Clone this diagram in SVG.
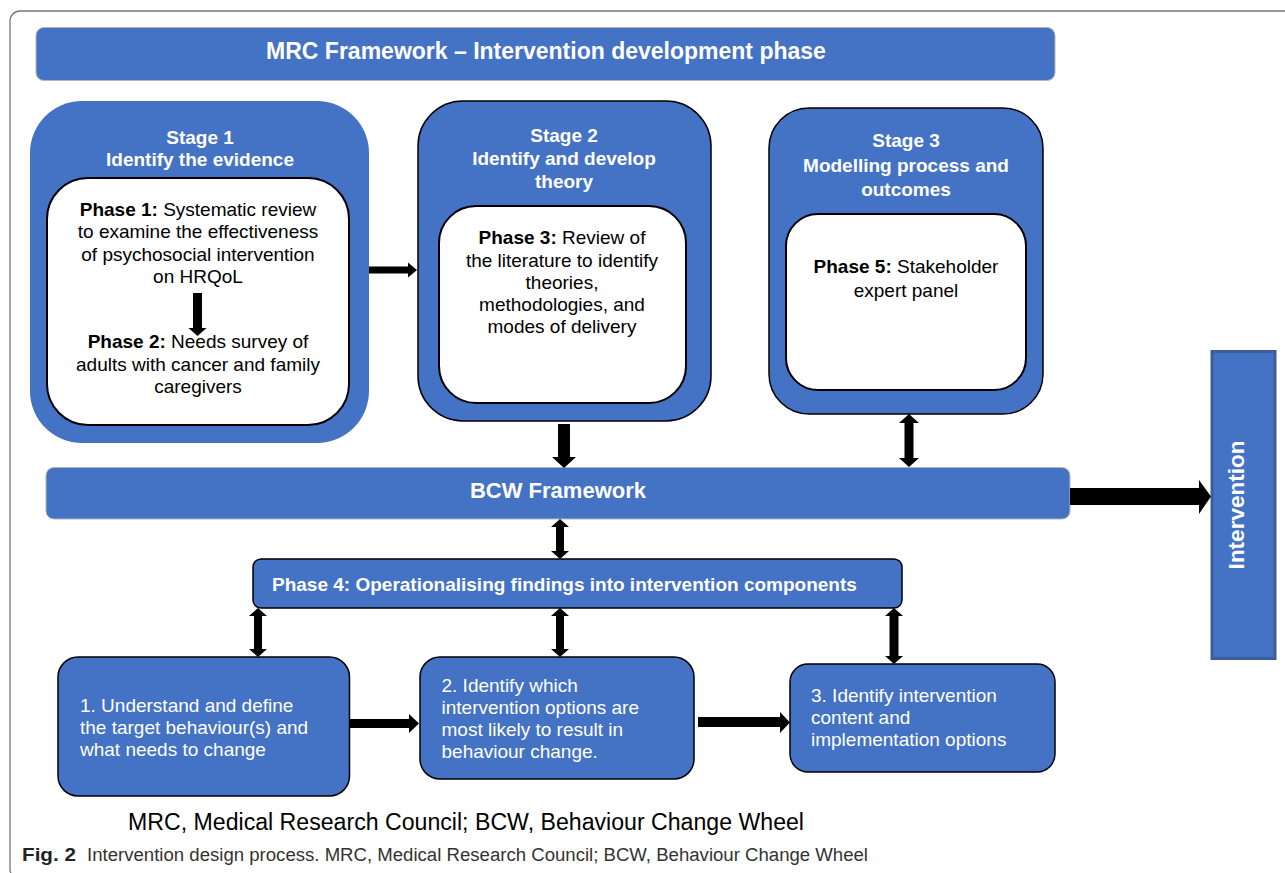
<svg xmlns="http://www.w3.org/2000/svg" width="1285" height="873" viewBox="0 0 1285 873">
<style>
.blue{fill:#4472C4}
.bar{fill:#4472C4;stroke:#b4b4b4;stroke-width:1}
.stg{fill:#4472C4;stroke:#000;stroke-width:1.5}
.inner{fill:#fff;stroke:#000;stroke-width:2}
.box{fill:#4472C4;stroke:#000;stroke-width:1.5}
.arr{fill:#000}
text{font-family:"Liberation Sans",Arial,sans-serif}
.wh{fill:#fff;font-size:19px;font-weight:bold;text-anchor:middle}
.bk{fill:#000;font-size:19px;text-anchor:middle}
.wt{fill:#fff;font-size:19px}
.b{font-weight:bold}
</style>
<rect x="10" y="11" width="1300" height="868" rx="10" fill="none" stroke="#777" stroke-width="1.3"/>
<g id="title">
<rect class="bar" x="36" y="27.5" width="1019" height="53" rx="8"/>
<text x="546" y="59" fill="#fff" font-size="23" font-weight="bold" text-anchor="middle">MRC Framework – Intervention development phase</text>
</g>
<g id="stage1">
<rect class="blue" x="30" y="101" width="339" height="342" rx="52"/>
<text class="wh" x="200" y="144">Stage 1</text>
<text class="wh" x="200" y="166">Identify the evidence</text>
<rect class="inner" x="47" y="178" width="302" height="247" rx="41"/>
<text class="bk" x="198" y="216"><tspan class="b">Phase 1:</tspan> Systematic review</text>
<text class="bk" x="198" y="238.3">to examine the effectiveness</text>
<text class="bk" x="198" y="260.5">of psychosocial intervention</text>
<text class="bk" x="198" y="283">on HRQoL</text>
<text class="bk" x="198" y="348.3"><tspan class="b">Phase 2:</tspan> Needs survey of</text>
<text class="bk" x="198" y="370.7">adults with cancer and family</text>
<text class="bk" x="198" y="393.3">caregivers</text>
</g>
<g id="stage2">
<rect class="stg" x="418" y="101" width="293" height="320" rx="45"/>
<text class="wh" x="564" y="141.7">Stage 2</text>
<text class="wh" x="564" y="165">Identify and develop</text>
<text class="wh" x="564" y="188">theory</text>
<rect class="inner" x="439" y="206" width="247" height="197" rx="37"/>
<text class="bk" x="562" y="244"><tspan class="b">Phase 3:</tspan> Review of</text>
<text class="bk" x="562" y="266.7">the literature to identify</text>
<text class="bk" x="562" y="289">theories,</text>
<text class="bk" x="562" y="311">methodologies, and</text>
<text class="bk" x="562" y="333.3">modes of delivery</text>
</g>
<g id="stage3">
<rect class="stg" x="769" y="108" width="274" height="306" rx="40"/>
<text class="wh" x="906" y="147.4">Stage 3</text>
<text class="wh" x="906" y="172">Modelling process and</text>
<text class="wh" x="906" y="196">outcomes</text>
<rect class="inner" x="786" y="214" width="240" height="176" rx="32"/>
<text class="bk" x="906" y="272.5"><tspan class="b">Phase 5:</tspan> Stakeholder</text>
<text class="bk" x="906" y="296.6">expert panel</text>
</g>
<g id="bcw">
<rect class="bar" x="46" y="467.5" width="1024" height="51.5" rx="8"/>
<text x="558" y="498" fill="#fff" font-size="22" font-weight="bold" text-anchor="middle">BCW Framework</text>
</g>
<g id="intervention">
<rect x="1212" y="351.5" width="63" height="307" fill="#4472C4" stroke="#3B5E96" stroke-width="3"/>
<text transform="translate(1243.5,505) rotate(-90)" x="0" y="0" fill="#fff" font-size="22.5" font-weight="bold" text-anchor="middle">Intervention</text>
</g>
<g id="phase4">
<rect class="box" x="253" y="559" width="649" height="49" rx="8"/>
<text x="272" y="591" fill="#fff" font-size="19" font-weight="bold">Phase 4: Operationalising findings into intervention components</text>
</g>
<g id="step1">
<rect class="box" x="58" y="657" width="291.5" height="139" rx="20"/>
<text class="wt" x="80" y="711.7">1. Understand and define</text>
<text class="wt" x="80" y="734">the target behaviour(s) and</text>
<text class="wt" x="80" y="756">what needs to change</text>
</g>
<g id="step2">
<rect class="box" x="420" y="657" width="274" height="122" rx="20"/>
<text class="wt" x="441.5" y="692">2. Identify which</text>
<text class="wt" x="441.5" y="714">intervention options are</text>
<text class="wt" x="441.5" y="736">most likely to result in</text>
<text class="wt" x="441.5" y="757.7">behaviour change.</text>
</g>
<g id="step3">
<rect class="box" x="790" y="664" width="265" height="108" rx="18"/>
<text class="wt" x="811" y="702">3. Identify intervention</text>
<text class="wt" x="811" y="724">content and</text>
<text class="wt" x="811" y="746">implementation options</text>
</g>
<g id="connectors">
<polygon class="arr" points="369,266.5 408,266.5 408,262.5 417,270 408,277.5 408,273.5 369,273.5"/>
<polygon class="arr" points="193,293 202,293 202,328 206.5,328 197.5,336 188.5,328 193,328"/>
<polygon class="arr" points="558,424 570,424 570,457 576,457 564,468 552,457 558,457"/>
<polygon class="arr" points="1070,488 1199,488 1199,480 1211,496.5 1199,514 1199,505 1070,505"/>
<polygon class="arr" points="350,719 409,719 409,714 419,723.5 409,733 409,728 350,728"/>
<polygon class="arr" points="698,717 780,717 780,712 790,722.5 780,733 780,727 698,727"/>
<polygon class="arr" points="909,414 919,423 913.5,423 913.5,458 919,458 909,467 899,458 904.5,458 904.5,423 899,423"/>
<polygon class="arr" points="560,519 569,527 564,527 564,551 569,551 560,559 551,551 556,551 556,527 551,527"/>
<polygon class="arr" points="258,608 267,616 262,616 262,649 267,649 258,657 249,649 254,649 254,616 249,616"/>
<polygon class="arr" points="560,608 569,616 564,616 564,649 569,649 560,657 551,649 556,649 556,616 551,616"/>
<polygon class="arr" points="894,608 903,616 898.5,616 898.5,656 903,656 894,664 885,656 889.5,656 889.5,616 885,616"/>
</g>
<text x="128" y="830" font-size="23" fill="#000" textLength="676" lengthAdjust="spacingAndGlyphs">MRC, Medical Research Council; BCW, Behaviour Change Wheel</text>
<text x="22" y="861" font-size="18" font-weight="bold" fill="#222" textLength="54" lengthAdjust="spacingAndGlyphs">Fig. 2</text>
<text x="87" y="861" font-size="18" fill="#333" textLength="781" lengthAdjust="spacingAndGlyphs">Intervention design process. MRC, Medical Research Council; BCW, Behaviour Change Wheel</text>
</svg>
